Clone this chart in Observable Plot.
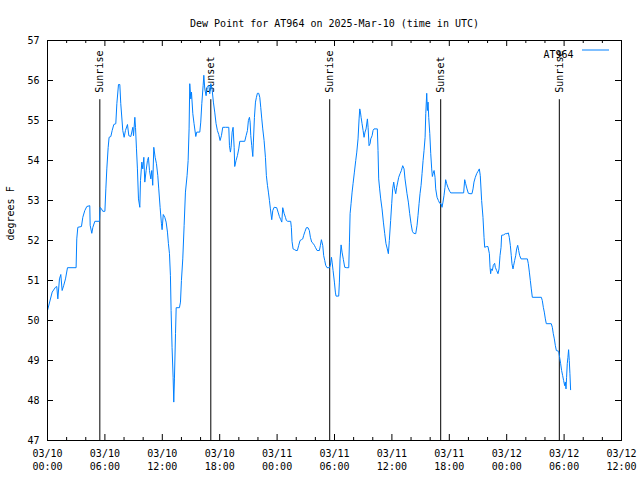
<!DOCTYPE html>
<html><head><meta charset="utf-8">
<script src="https://cdn.jsdelivr.net/npm/d3@7"></script>
<script src="https://cdn.jsdelivr.net/npm/@observablehq/plot@0.6"></script>
<style>body{margin:0;background:#fff}</style>
</head><body><div id="chart"></div>
<script>
const startUTC = Date.UTC(2025, 2, 10);
const titleText = "Dew Point for AT964 on 2025-Mar-10 (time in UTC)";
const yLabel = "degrees F";
const seriesName = "AT964";
// hours since 2025-03-10 00:00 UTC
const hours = [
0.00,0.49,0.83,0.97,1.08,1.25,1.39,1.53,1.70,1.88,
2.09,2.99,3.06,3.17,3.55,3.69,3.90,4.11,4.42,4.46,
4.63,4.74,4.95,5.43,5.50,5.64,5.78,6.00,6.10,6.20,
6.34,6.44,6.62,6.76,6.93,7.14,7.25,7.42,7.56,7.66,
7.87,8.01,8.15,8.36,8.50,8.71,8.92,8.99,9.13,9.20,
9.30,9.40,9.51,9.65,9.72,9.86,9.96,10.07,10.17,10.31,
10.45,10.55,10.66,10.80,10.90,11.00,11.11,11.25,11.39,11.53,
11.63,11.77,11.91,11.98,12.10,12.26,12.40,12.54,12.64,12.75,
12.85,12.92,13.02,13.13,13.20,13.27,13.38,13.45,13.79,13.90,
14.00,14.14,14.28,14.42,14.59,14.70,14.80,14.87,14.98,15.05,
15.19,15.32,15.50,15.60,15.92,16.02,16.13,16.27,16.34,16.44,
16.58,16.68,16.86,16.96,17.07,17.20,17.34,17.48,17.62,17.76,
17.90,18.04,18.18,18.32,18.60,18.95,19.02,19.12,19.19,19.30,
19.40,19.51,19.57,19.71,19.85,19.99,20.10,20.62,20.76,20.90,
21.00,21.11,21.18,21.25,21.35,21.46,21.52,21.63,21.74,21.84,
21.94,22.08,22.19,22.29,22.40,22.50,22.64,22.78,22.88,22.99,
23.09,23.20,23.30,23.44,23.55,23.69,23.96,24.10,24.24,24.38,
24.49,24.59,24.73,24.87,24.97,25.11,25.42,25.49,25.56,25.67,
25.84,25.98,26.12,26.26,26.40,26.54,26.68,26.78,26.92,27.06,
27.23,27.37,27.48,27.62,27.76,27.90,28.00,28.18,28.42,28.53,
28.63,28.77,28.87,28.98,29.08,29.22,29.47,29.57,29.68,29.75,
29.85,29.99,30.09,30.16,30.44,30.51,30.58,30.69,30.79,30.93,
31.07,31.28,31.49,31.56,31.63,31.73,31.84,31.94,32.08,32.22,
32.33,32.46,32.57,32.64,32.71,32.78,32.88,32.99,33.09,33.19,
33.30,33.44,33.51,33.61,33.72,33.79,33.93,34.03,34.13,34.48,
34.55,34.62,34.72,34.83,34.97,35.11,35.25,35.38,35.52,35.63,
35.73,35.87,35.98,36.08,36.19,36.29,36.40,36.50,36.61,36.71,
36.85,36.99,37.13,37.27,37.37,37.58,37.72,37.86,38.00,38.14,
38.28,38.49,38.63,38.73,38.84,38.94,39.05,39.15,39.26,39.36,
39.47,39.54,39.64,39.71,39.78,39.85,39.96,40.06,40.16,40.23,
40.30,40.41,40.51,40.58,40.72,40.86,41.00,41.14,41.24,41.34,
41.45,41.55,41.62,41.73,41.87,42.04,42.15,43.50,43.61,43.71,
43.85,43.99,44.16,44.37,44.48,44.58,44.72,44.86,45.00,45.14,
45.24,45.38,45.52,45.63,45.70,45.91,46.04,46.19,46.26,46.32,
46.39,46.50,46.60,46.74,46.81,46.95,47.09,47.20,47.30,47.41,
47.47,47.68,47.86,48.03,48.17,48.27,48.38,48.48,48.55,48.66,
48.73,48.83,48.94,49.04,49.15,49.25,49.36,49.50,50.16,50.26,
50.37,50.47,50.57,50.68,51.62,51.72,51.83,51.93,52.04,52.14,
52.66,52.77,52.87,52.98,53.08,53.19,53.43,53.53,53.64,53.74,
53.85,53.95,54.06,54.13,54.20,54.26,54.33,54.40,54.47,54.54,
54.61,54.68
];
// dew point, degrees F
const dewF = [
50.25,50.71,50.83,50.85,50.54,51.04,51.15,50.75,50.88,51.04,
51.32,51.32,52.04,52.33,52.35,52.58,52.75,52.85,52.87,52.38,
52.18,52.33,52.48,52.48,52.83,52.79,52.73,52.73,53.29,53.79,
54.32,54.58,54.60,54.75,54.90,54.92,55.42,55.90,55.90,55.42,
54.75,54.58,54.75,54.90,54.62,54.60,54.83,54.62,55.08,54.83,
54.29,53.79,53.04,52.83,53.50,53.96,53.79,54.08,53.46,53.75,
54.00,54.08,53.75,53.54,53.75,53.38,54.33,54.08,53.92,53.62,
53.29,52.83,52.42,52.27,52.65,52.58,52.46,52.21,51.92,51.67,
51.12,50.25,49.33,48.58,47.96,48.54,49.67,50.32,50.32,50.46,
51.00,51.54,52.37,53.21,53.62,54.00,54.79,55.92,55.54,55.71,
55.17,54.92,54.60,54.71,54.71,54.96,55.42,55.88,56.13,55.79,
55.62,55.83,55.88,55.67,55.92,55.79,55.46,55.21,54.92,54.75,
54.65,54.50,54.62,54.83,54.83,54.83,54.37,54.21,54.33,54.71,
54.83,54.33,53.85,54.00,54.12,54.29,54.48,54.48,54.62,54.75,
55.00,55.08,54.96,54.62,54.37,54.10,54.46,55.08,55.46,55.58,
55.68,55.68,55.58,55.33,55.04,54.79,54.50,54.08,53.62,53.38,
53.21,53.00,52.79,52.52,52.75,52.83,52.82,52.71,52.60,52.52,
52.46,52.82,52.68,52.58,52.50,52.48,52.48,52.33,51.98,51.79,
51.77,51.75,51.75,51.88,52.00,52.02,52.04,52.13,52.23,52.32,
52.32,52.25,52.08,51.96,51.93,51.88,51.83,51.75,51.75,51.88,
52.02,51.88,51.62,51.50,51.38,51.32,51.32,51.38,51.58,51.46,
51.25,50.96,50.71,50.61,50.61,50.96,51.54,51.89,51.71,51.52,
51.33,51.32,51.32,51.96,52.67,52.92,53.21,53.42,53.71,54.00,
54.21,54.54,55.04,55.29,55.21,55.08,54.92,54.75,54.58,54.71,
54.79,55.04,54.83,54.37,54.42,54.54,54.62,54.75,54.79,54.79,
54.25,53.54,53.29,53.04,52.79,52.46,52.17,51.92,51.79,51.67,
52.00,52.50,52.92,53.29,53.46,53.29,53.17,53.33,53.46,53.58,
53.67,53.75,53.87,53.79,53.54,53.17,52.96,52.67,52.42,52.23,
52.18,52.17,52.38,52.63,52.92,53.17,53.38,53.67,54.00,54.25,
54.58,55.17,55.68,55.25,55.46,55.08,54.67,54.17,53.79,53.60,
53.67,53.75,53.58,53.29,53.08,53.00,52.93,52.92,52.83,52.96,
53.13,53.33,53.52,53.42,53.32,53.23,53.19,53.19,53.52,53.42,
53.29,53.18,53.17,53.17,53.29,53.46,53.58,53.67,53.73,53.79,
53.62,53.00,52.58,52.08,51.83,51.85,51.85,51.67,51.33,51.17,
51.29,51.25,51.38,51.43,51.33,51.25,51.17,51.29,51.62,51.83,
52.13,52.14,52.17,52.17,52.19,52.08,51.88,51.62,51.42,51.29,
51.38,51.50,51.62,51.79,51.88,51.75,51.62,51.54,51.54,51.42,
51.21,51.00,50.79,50.58,50.58,50.50,50.33,50.21,50.04,49.92,
49.92,49.83,49.67,49.54,49.38,49.25,49.23,49.08,48.92,48.75,
48.62,48.50,48.37,48.46,48.29,48.58,48.92,49.08,49.27,49.00,
48.67,48.27
];
const sunHours = [5.47, 17.07, 29.50, 41.10, 53.50];
const sunLabels = ["Sunrise", "Sunset", "Sunrise", "Sunset", "Sunrise"];
const yTicks = [47, 48, 49, 50, 51, 52, 53, 54, 55, 56, 57];
const xTickHours = [0, 6, 12, 18, 24, 30, 36, 42, 48, 54, 60];
const xMinorHours = [0, 2, 4, 8, 10, 14, 16, 20, 22, 26, 28, 32, 34, 38, 40, 44, 46, 50, 52, 56, 58];

const toDate = h => new Date(startUTC + h * 3600e3);
const rows = hours.map((h, i) => ({t: toDate(h), v: dewF[i]}));
const sun = sunHours.map((h, i) => ({t: toDate(h), label: sunLabels[i]}));
const xTicks = xTickHours.map(toDate);
const xMinor = xMinorHours.map(toDate);
const fmtDay = d3.utcFormat("%m/%d"), fmtTime = d3.utcFormat("%H:%M");
const lineColor = "#0080ff";

const W = 640, H = 480, mL = 47, mR = 19, mT = 40, mB = 40;
const innerW = W - mL - mR, innerH = H - mT - mB;
const major = 6, minor = 3;
const tickStyle = {stroke: "black", strokeWidth: 1};

const plot = Plot.plot({
  width: W, height: H,
  marginLeft: mL, marginRight: mR, marginTop: mT, marginBottom: mB,
  style: {fontFamily: "'DejaVu Sans Mono', monospace", fontSize: "10px", background: "white", color: "black"},
  x: {type: "utc", domain: [toDate(0), toDate(60)]},
  y: {domain: [47, 57]},
  marks: [
    Plot.axisX(xTicks, {anchor: "bottom", tickSize: 0, tickPadding: 7, lineHeight: 1.3, tickFormat: d => fmtDay(d) + "\n" + fmtTime(d), label: null}),
    Plot.axisY(yTicks, {anchor: "left", tickSize: 0, tickPadding: 8, label: null}),
    // inward ticks on all four sides
    Plot.ruleX(xTicks, {...tickStyle, insetTop: innerH - major}),
    Plot.ruleX(xTicks, {...tickStyle, insetBottom: innerH - major}),
    Plot.ruleX(xMinor, {...tickStyle, insetTop: innerH - minor}),
    Plot.ruleX(xMinor, {...tickStyle, insetBottom: innerH - minor}),
    Plot.ruleY(yTicks, {...tickStyle, y: d => d, insetRight: innerW - major}),
    Plot.ruleY(yTicks, {...tickStyle, y: d => d, insetLeft: innerW - major}),
    Plot.ruleX(sun, {x: "t", y1: 47, y2: 55.52, stroke: "black", strokeWidth: 1}),
    Plot.text(sun, {x: "t", y: 55.52, text: "label", rotate: -90, textAnchor: "start", dy: -7, fill: "black"}),
    Plot.line(rows, {x: "t", y: "v", stroke: lineColor, strokeWidth: 1}),
    Plot.frame({stroke: "black"}),
    Plot.text([titleText], {frameAnchor: "top", dy: -21, fill: "black"}),
    Plot.text([yLabel], {frameAnchor: "left", rotate: -90, dx: -37, fill: "black"}),
    Plot.text([seriesName], {frameAnchor: "top-right", textAnchor: "end", dx: -48, dy: 10, fill: "black"})
  ]
});
// legend swatch next to the series name
d3.select(plot).append("line")
  .attr("x1", 582).attr("x2", 609).attr("y1", 50).attr("y2", 50)
  .attr("stroke", lineColor).attr("stroke-width", 1);
document.getElementById("chart").appendChild(plot);
</script>
</body></html>
